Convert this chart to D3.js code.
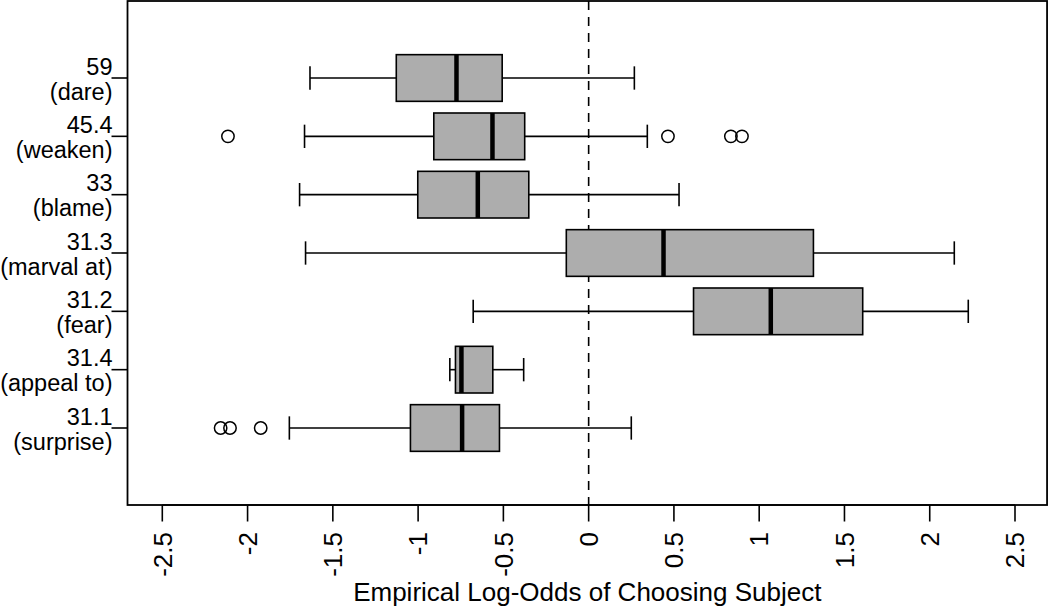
<!DOCTYPE html>
<html>
<head>
<meta charset="utf-8">
<script src="https://cdn.jsdelivr.net/npm/d3@7"></script>
<style>
  html, body { margin: 0; padding: 0; background: #fff; }
  svg { display: block; }
  text { font-family: "Liberation Sans", Arial, Helvetica, sans-serif; fill: #000; }
</style>
</head>
<body>
<svg id="chart" width="1050" height="609"></svg>
<script>
// ---------------- data (top to bottom) ----------------
const codes      = ["59", "45.4", "33", "31.3", "31.2", "31.4", "31.1"];
const verbs      = ["(dare)", "(weaken)", "(blame)", "(marval at)", "(fear)", "(appeal to)", "(surprise)"];
const whiskerLow = [-1.634, -1.666, -1.695, -1.660, -0.677, -0.814, -1.755];
const q1         = [-1.128, -0.908, -1.002, -0.131,  0.615, -0.781, -1.045];
const medians    = [-0.775, -0.564, -0.650,  0.439,  1.068, -0.746, -0.742];
const q3         = [-0.507, -0.375, -0.351,  1.318,  1.607, -0.562, -0.523];
const whiskerHigh= [ 0.268,  0.344,  0.530,  2.144,  2.226, -0.381,  0.250];
const outliers   = [[], [-2.115, 0.465, 0.834, 0.899], [], [], [], [], [-2.158, -2.103, -1.923]];
const xTicks     = [-2.5, -2, -1.5, -1, -0.5, 0, 0.5, 1, 1.5, 2, 2.5];
const xTitle     = "Empirical Log-Odds of Choosing Subject";

// ---------------- layout ----------------
const svg = d3.select("#chart");
const x = d3.scaleLinear().domain([-2.5, 2.5]).range([162.3, 1015]);
const frameLeft = x(-2.704), frameRight = x(2.688);
const y = d3.scaleLinear().domain([-0.32, 8.32]).range([505, 1]);
const n = codes.length;
const pos = i => n - i;           // top category at position 7
const boxHalf = (y(0) - y(0.8)) / 2;   // boxwex 0.8
const capHalf = boxHalf / 2;

// frame
svg.append("rect")
  .attr("x", frameLeft).attr("y", y(8.32))
  .attr("width", frameRight - frameLeft).attr("height", y(-0.32) - y(8.32))
  .attr("fill", "none").attr("stroke", "#000").attr("stroke-width", 1.8);

// dashed zero line
svg.append("line")
  .attr("x1", x(0)).attr("x2", x(0))
  .attr("y1", y(8.32)).attr("y2", y(-0.32))
  .attr("stroke", "#000").attr("stroke-width", 1.6)
  .attr("stroke-dasharray", "9,7");

// boxes
const g = svg.append("g");
d3.range(n).forEach(i => {
  const cy = y(pos(i));
  g.append("line").attr("x1", x(whiskerLow[i])).attr("x2", x(q1[i]))
    .attr("y1", cy).attr("y2", cy).attr("stroke", "#000").attr("stroke-width", 1.6);
  g.append("line").attr("x1", x(q3[i])).attr("x2", x(whiskerHigh[i]))
    .attr("y1", cy).attr("y2", cy).attr("stroke", "#000").attr("stroke-width", 1.6);
  [whiskerLow[i], whiskerHigh[i]].forEach(v => {
    g.append("line").attr("x1", x(v)).attr("x2", x(v))
      .attr("y1", cy - capHalf).attr("y2", cy + capHalf)
      .attr("stroke", "#000").attr("stroke-width", 1.6);
  });
  g.append("rect")
    .attr("x", x(q1[i])).attr("y", cy - boxHalf)
    .attr("width", x(q3[i]) - x(q1[i])).attr("height", 2 * boxHalf)
    .attr("fill", "#adadad").attr("stroke", "#000").attr("stroke-width", 1.6);
  g.append("line").attr("x1", x(medians[i])).attr("x2", x(medians[i]))
    .attr("y1", cy - boxHalf).attr("y2", cy + boxHalf)
    .attr("stroke", "#000").attr("stroke-width", 4.5);
  outliers[i].forEach(v => {
    g.append("circle").attr("cx", x(v)).attr("cy", cy).attr("r", 6.2)
      .attr("fill", "none").attr("stroke", "#000").attr("stroke-width", 1.5);
  });
});

// x axis
const xAxis = svg.append("g").attr("transform", `translate(0,${y(-0.32)})`);
xAxis.append("line").attr("x1", x(-2.5)).attr("x2", x(2.5))
  .attr("y1", 0).attr("y2", 0).attr("stroke", "#000").attr("stroke-width", 1.6);
xTicks.forEach(t => {
  xAxis.append("line").attr("x1", x(t)).attr("x2", x(t))
    .attr("y1", 0).attr("y2", 16.5).attr("stroke", "#000").attr("stroke-width", 1.6);
  xAxis.append("text")
    .attr("transform", `translate(${x(t) + 9.2},${27}) rotate(-90)`)
    .attr("text-anchor", "end")
    .style("font-size", "26px")
    .text(String(t));
});
svg.append("text")
  .attr("x", (frameLeft + frameRight) / 2).attr("y", 601)
  .attr("text-anchor", "middle").style("font-size", "26px")
  .text(xTitle);

// y axis
d3.range(n).forEach(i => {
  const cy = y(pos(i));
  svg.append("line").attr("x1", frameLeft - 16).attr("x2", frameLeft)
    .attr("y1", cy).attr("y2", cy).attr("stroke", "#000").attr("stroke-width", 1.6);
  svg.append("text").attr("x", 112.5).attr("y", cy - 3.3)
    .attr("text-anchor", "end").style("font-size", "23.5px").text(codes[i]);
  svg.append("text").attr("x", 112.5).attr("y", cy + 21.7)
    .attr("text-anchor", "end").style("font-size", "23.5px").text(verbs[i]);
});
</script>
</body>
</html>
